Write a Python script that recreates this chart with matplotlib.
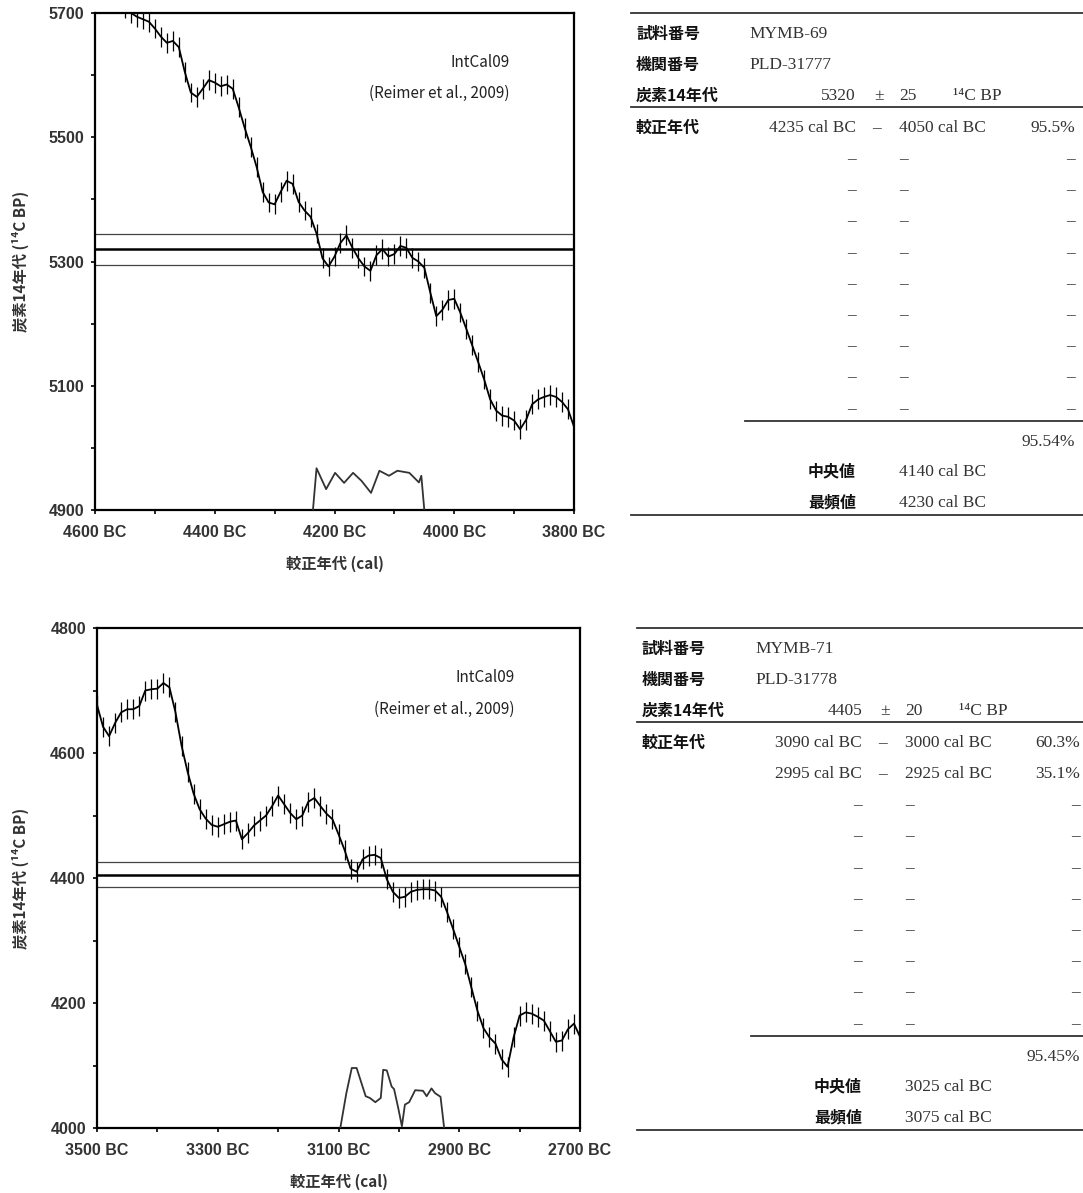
import matplotlib
matplotlib.use("Agg")
import matplotlib.pyplot as plt
from matplotlib.lines import Line2D
from matplotlib.ticker import MultipleLocator, FuncFormatter

W, H = 1083, 1193
SANS = ["Noto Sans CJK JP", "DejaVu Sans"]
TICK_FONT = ["Liberation Sans", "DejaVu Sans"]
SERIF = ["Liberation Serif", "DejaVu Serif"]
INK = "#222222"

# IntCal09 curve, sample MYMB-69 window (cal BC, 14C BP, 1 sigma)
TOP_CAL_BC = list(range(4600, 3790, -10))
TOP_C14_BP = [
    5770, 5755, 5740, 5728, 5718, 5708, 5700, 5694, 5690, 5686,
    5675, 5662, 5652, 5655, 5645, 5605, 5572, 5565, 5578, 5592,
    5588, 5582, 5585, 5578, 5548, 5515, 5485, 5452, 5412, 5395,
    5392, 5412, 5430, 5425, 5396, 5382, 5372, 5345, 5305, 5292,
    5308, 5330, 5342, 5322, 5305, 5292, 5285, 5310, 5320, 5308,
    5312, 5325, 5322, 5306, 5300, 5290, 5250, 5212, 5222, 5238,
    5240, 5218, 5192, 5165, 5138, 5110, 5078, 5060, 5052, 5050,
    5044, 5030, 5045, 5070, 5078, 5082, 5085, 5082, 5074, 5062,
    5034,
]
TOP_SIGMA = 16

# calibrated probability for MYMB-69 (relative)
TOP_PROB_BC = [4236, 4230, 4214, 4199, 4184, 4169, 4155, 4139, 4125, 4109,
               4095, 4075, 4059, 4055, 4050]
TOP_PROB = [0.0, 1.0, 0.50, 0.89, 0.65, 0.89, 0.70, 0.41, 0.94, 0.82,
            0.94, 0.89, 0.66, 0.82, 0.0]

# IntCal09 curve, sample MYMB-71 window
BOT_CAL_BC = list(range(3500, 2690, -10))
BOT_C14_BP = [
    4677, 4642, 4627, 4648, 4665, 4670, 4670, 4675, 4700, 4702,
    4703, 4712, 4705, 4665, 4612, 4570, 4535, 4510, 4495, 4485,
    4482, 4486, 4490, 4492, 4462, 4472, 4484, 4492, 4500, 4515,
    4532, 4518, 4504, 4494, 4500, 4522, 4528, 4515, 4503, 4494,
    4470, 4445, 4415, 4410, 4430, 4436, 4437, 4432, 4398, 4378,
    4368, 4370, 4378, 4381, 4382, 4382, 4380, 4370, 4345, 4318,
    4290, 4262, 4225, 4188, 4160, 4145, 4135, 4110, 4098, 4145,
    4180, 4185, 4183, 4178, 4172, 4155, 4138, 4140, 4158, 4167,
    4146,
]
BOT_SIGMA = 16

BOT_PROB_BC = [3097, 3087, 3078, 3070, 3055, 3048, 3039, 3030, 3026, 3020,
               3012, 3008, 3001, 2995, 2990, 2983, 2973, 2960, 2954, 2946,
               2940, 2931, 2925]
BOT_PROB = [0.0, 0.58, 1.0, 1.0, 0.53, 0.50, 0.43, 0.50, 0.97, 0.96,
            0.69, 0.65, 0.33, 0.03, 0.39, 0.43, 0.63, 0.62, 0.53, 0.66,
            0.58, 0.52, 0.0]

# measured ages
SAMPLE_IDS = ["MYMB-69", "MYMB-71"]
LAB_IDS = ["PLD-31777", "PLD-31778"]
C14_AGES = [5320, 4405]
C14_ERRS = [25, 20]
RANGES = [
    [("4235 cal BC", "4050 cal BC", "95.5%")],
    [("3090 cal BC", "3000 cal BC", "60.3%"), ("2995 cal BC", "2925 cal BC", "35.1%")],
]
TOTALS = ["95.54%", "95.45%"]
MEDIANS = ["4140 cal BC", "3025 cal BC"]
MODES = ["4230 cal BC", "3075 cal BC"]


def fx(px):
    return px / W


def fy(py):
    return 1 - py / H


def hline(fig, x0, x1, y, lw=1.3, color="#333333"):
    fig.add_artist(Line2D([fx(x0), fx(x1)], [fy(y), fy(y)],
                          transform=fig.transFigure, color=color, lw=lw))


def draw_curve(fig, box, xlim, ylim, cal, bp, sigma, prob_x, prob, prob_frac,
               age, err, xlabel_y):
    left, top, right, bottom = box
    ax = fig.add_axes([fx(left), fy(bottom), fx(right - left), (bottom - top) / H])
    ax.errorbar(cal, bp, yerr=sigma, color="black", lw=1.3, elinewidth=0.9,
                capsize=0, zorder=3)
    ax.axhline(age, color="black", lw=1.8, zorder=2)
    ax.axhline(age + err, color="#444444", lw=0.9, zorder=2)
    ax.axhline(age - err, color="#444444", lw=0.9, zorder=2)

    ax.set_xlim(*xlim)
    ax.set_ylim(*ylim)
    # labelled ticks every 200 years, starting from the left/bottom limits
    ax.xaxis.set_major_locator(MultipleLocator(200, offset=xlim[0] % 200))
    ax.xaxis.set_minor_locator(MultipleLocator(100))
    ax.yaxis.set_major_locator(MultipleLocator(200, offset=ylim[0] % 200))
    ax.yaxis.set_minor_locator(MultipleLocator(100))
    ax.xaxis.set_major_formatter(FuncFormatter(lambda v, p: f"{int(round(v))} BC"))
    ax.yaxis.set_major_formatter(FuncFormatter(lambda v, p: f"{int(round(v))}"))
    ax.tick_params(which="both", direction="out", length=3, width=1.2, color="black")
    ax.tick_params(axis="x", pad=8)
    ax.tick_params(axis="y", pad=5)
    for lab in ax.get_xticklabels() + ax.get_yticklabels():
        lab.set_family(TICK_FONT)
        lab.set_fontsize(11.5)
        lab.set_fontweight("bold")
        lab.set_color("#333333")
    for sp in ax.spines.values():
        sp.set_linewidth(1.6)

    ax.text(0.865, 0.900, "IntCal09", transform=ax.transAxes, ha="right",
            va="center", family=SANS, fontsize=11, color=INK)
    ax.text(0.865, 0.838, "(Reimer et al., 2009)", transform=ax.transAxes,
            ha="right", va="center", family=SANS, fontsize=11, color=INK)

    axp = ax.twinx()
    axp.plot(prob_x, prob, color="#333333", lw=1.3)
    axp.set_ylim(0, 1 / prob_frac)
    axp.axis("off")

    fig.text(fx(20), fy((top + bottom) / 2), "炭素14年代 (¹⁴C BP)", rotation=90,
             ha="center", va="center", family=SANS, fontsize=11, fontweight="bold",
             color="#333333")
    fig.text(fx((left + right) / 2), fy(xlabel_y), "較正年代 (cal)", ha="center",
             va="center", family=SANS, fontsize=11, fontweight="bold",
             color="#333333")
    return ax


def draw_table(fig, x0, y0, idx, pct_right, n_dash):
    lab = dict(family=SANS, fontsize=11.5, fontweight="bold", color="#111111",
               va="center")
    val = dict(family=SERIF, fontsize=12.5, color="#333333", va="center")
    right = 1082

    hline(fig, x0, right + 5, y0)
    fig.text(fx(x0 + 5), fy(y0 + 21), "試料番号", ha="left", **lab)
    fig.text(fx(x0 + 118), fy(y0 + 21), SAMPLE_IDS[idx], ha="left", **val)
    fig.text(fx(x0 + 5), fy(y0 + 52), "機関番号", ha="left", **lab)
    fig.text(fx(x0 + 118), fy(y0 + 52), LAB_IDS[idx], ha="left", **val)
    fig.text(fx(x0 + 5), fy(y0 + 83), "炭素14年代", ha="left", **lab)
    fig.text(fx(x0 + 225), fy(y0 + 83), f"{C14_AGES[idx]}", ha="right", **val)
    fig.text(fx(x0 + 248), fy(y0 + 83), "±", ha="center", **val)
    fig.text(fx(x0 + 268), fy(y0 + 83), f"{C14_ERRS[idx]}", ha="left", **val)
    fig.text(fx(x0 + 322), fy(y0 + 83), "¹⁴C BP", ha="left", **val)
    hline(fig, x0, right + 5, y0 + 94)

    fig.text(fx(x0 + 5), fy(y0 + 115), "較正年代", ha="left", **lab)
    rows = RANGES[idx]
    step = 31.2
    for i in range(len(rows) + n_dash):
        y = y0 + 115 + i * step
        if i < len(rows):
            a, b, p = rows[i]
            fig.text(fx(x0 + 225), fy(y), a, ha="right", **val)
            fig.text(fx(x0 + 246), fy(y), "–", ha="center", **val)
            fig.text(fx(x0 + 268), fy(y), b, ha="left", **val)
            fig.text(fx(pct_right), fy(y), p, ha="right", **val)
        else:
            fig.text(fx(x0 + 225), fy(y), "–", ha="right", **val)
            fig.text(fx(x0 + 268), fy(y), "–", ha="left", **val)
            fig.text(fx(pct_right), fy(y), "–", ha="right", **val)
    last = y0 + 115 + (len(rows) + n_dash - 1) * step
    hline(fig, x0 + 114, right + 5, last + 12)
    fig.text(fx(pct_right), fy(last + 33), TOTALS[idx], ha="right", **val)
    fig.text(fx(x0 + 225), fy(last + 63), "中央値", ha="right", **lab)
    fig.text(fx(x0 + 268), fy(last + 63), MEDIANS[idx], ha="left", **val)
    fig.text(fx(x0 + 225), fy(last + 94), "最頻値", ha="right", **lab)
    fig.text(fx(x0 + 268), fy(last + 94), MODES[idx], ha="left", **val)
    hline(fig, x0, right + 5, last + 106)


fig = plt.figure(figsize=(W / 100, H / 100), dpi=100)

draw_curve(fig, (95, 13, 574, 510), (4600, 3800), (4900, 5700),
           TOP_CAL_BC, TOP_C14_BP, TOP_SIGMA, TOP_PROB_BC, TOP_PROB, 0.084,
           C14_AGES[0], C14_ERRS[0], 564)
draw_curve(fig, (97, 628, 580, 1128), (3500, 2700), (4000, 4800),
           BOT_CAL_BC, BOT_C14_BP, BOT_SIGMA, BOT_PROB_BC, BOT_PROB, 0.12,
           C14_AGES[1], C14_ERRS[1], 1182)

draw_table(fig, 631, 13, 0, 1075, 9)
draw_table(fig, 637, 628, 1, 1080, 8)

fig.savefig("out.png", dpi=100)
